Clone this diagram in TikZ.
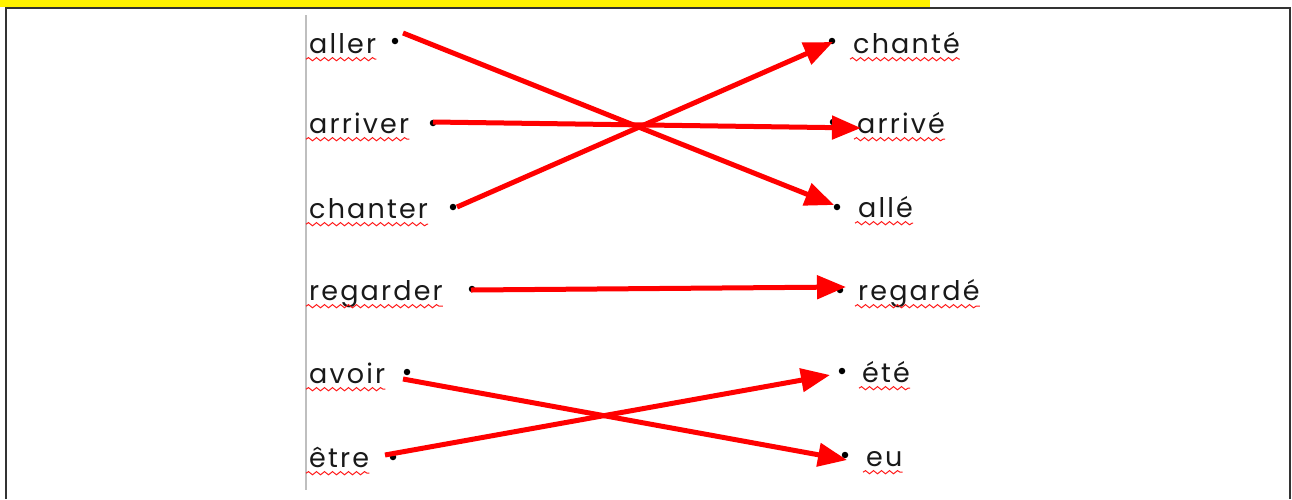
\documentclass[tikz,border=0pt]{standalone}
\usepackage{fontspec}
\setmainfont[LetterSpace=8]{Poppins}
\usetikzlibrary{arrows.meta,decorations.pathmorphing}
\tikzset{
	word/.style={anchor=base west, inner sep=0pt, text depth=6pt, text=black!90, font=\fontsize{27}{31}\selectfont},
	spell/.style={draw=red!90, line width=1pt, decorate, decoration={snake, amplitude=1.6pt, segment length=8pt}},
	bullet/.style={circle, fill=black, inner sep=0pt, minimum size=6.5pt},
	link/.style={draw=red, line width=5pt, -{Triangle[length=29pt, width=23pt]}},
}
\begin{document}
\begin{tikzpicture}[x=1pt, y=-1pt]
	\useasboundingbox (0,0) rectangle (1292,499);
	\fill [yellow] (0,0) rectangle (930,7);
	\draw [black!80, line width=1.5pt] (6,499) -- (6,8) -- (1290,8) -- (1290,499);
	\draw [black!25, line width=2pt] (306,15) -- (306,490);

	% left column
	\node [word] (aller) at (309,53) {aller};
	\node [word] (arriver) at (309,133) {arriver};
	\node [word] (chanter) at (309,218) {chanter};
	\node [word] (regarder) at (309,300) {regarder};
	\node [word] (avoir) at (309,383) {avoir};
	\node [word] (etre) at (309,467) {être};
	% right column
	\node [word] (chante) at (853,53) {chanté};
	\node [word] (arrive) at (857,133) {arrivé};
	\node [word] (alle) at (858,217) {allé};
	\node [word] (regarde) at (858,300) {regardé};
	\node [word] (ete) at (862,382) {été};
	\node [word] (eu) at (866,466) {eu};

	\foreach \w in {aller,arriver,chanter,regarder,avoir,etre,chante,arrive,alle,regarde,ete,eu}
		\draw [spell] ([xshift=-3pt]\w.south west) -- (\w.south east);

	\node [bullet] (d-aller) at (395,41) {};
	\node [bullet] (d-arriver) at (433,123) {};
	\node [bullet] (d-chanter) at (453,207) {};
	\node [bullet] (d-regarder) at (472,289) {};
	\node [bullet] (d-avoir) at (407,372) {};
	\node [bullet] (d-etre) at (393,457) {};
	\node [bullet] (d-chante) at (832,41) {};
	\node [bullet] (d-arrive) at (833,122) {};
	\node [bullet] (d-alle) at (837,207) {};
	\node [bullet] (d-regarde) at (840,290) {};
	\node [bullet] (d-ete) at (842,371) {};
	\node [bullet] (d-eu) at (845,455) {};

	% hand drawn links
	\coordinate (s1) at (403,33);
	\coordinate (e1) at (834,205);
	\coordinate (s2) at (433,122);
	\coordinate (e2) at (861,128);
	\coordinate (s3) at (457,207);
	\coordinate (e3) at (833,42);
	\coordinate (s4) at (471,290);
	\coordinate (e4) at (846,287);
	\coordinate (s5) at (403,379);
	\coordinate (e5) at (847,460);
	\coordinate (s6) at (385,455);
	\coordinate (e6) at (830,375);
	\foreach \i in {1,...,6}
		\draw [link] (s\i) -- (e\i);
\end{tikzpicture}
\end{document}
